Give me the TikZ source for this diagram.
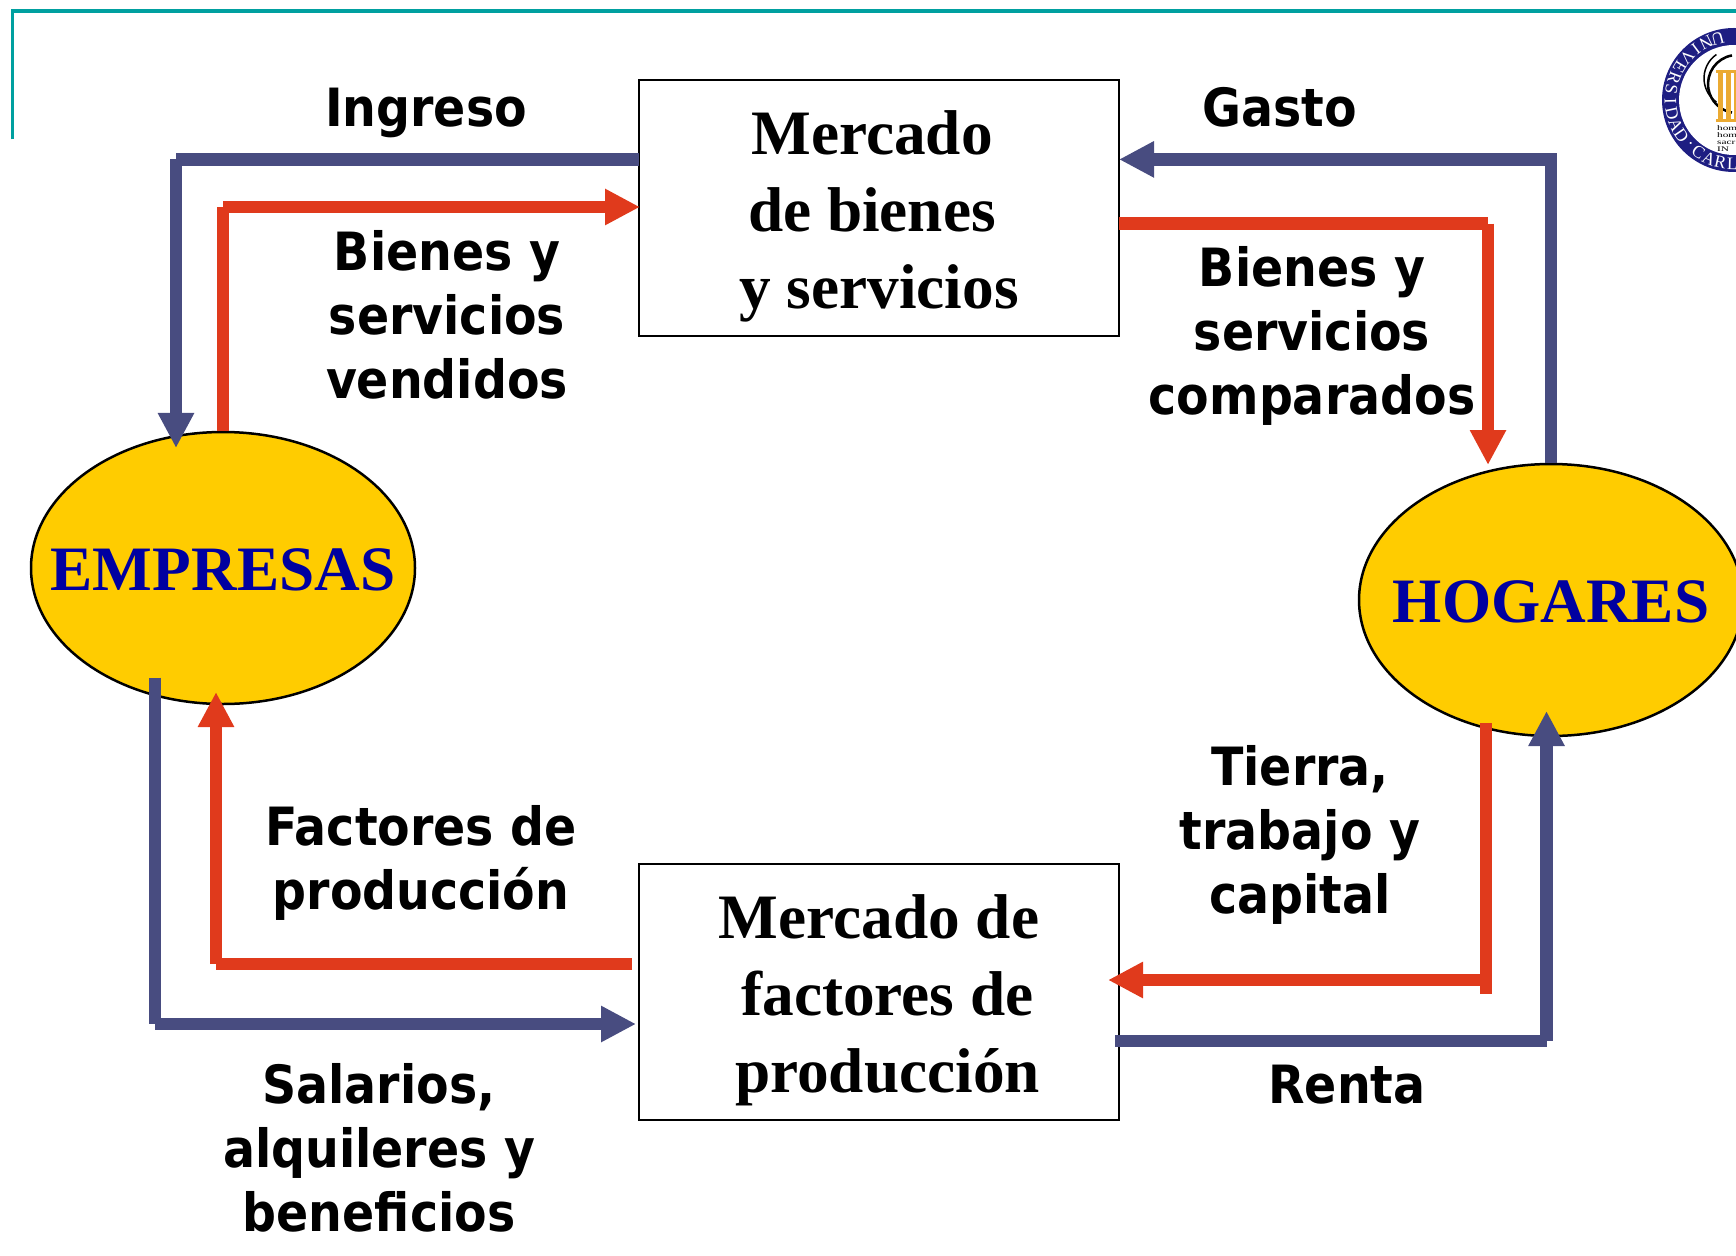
\documentclass[tikz,border=0pt]{standalone}
\usepackage{fontspec}
\setmainfont{Liberation Serif}
\newfontfamily\labelfont[FakeStretch=0.9]{DejaVu Sans}
\usetikzlibrary{shapes,arrows.meta}

\definecolor{tealline}{RGB}{0,160,160}
\definecolor{flowblue}{RGB}{72,76,128}
\definecolor{flowred}{RGB}{224,58,28}
\definecolor{sectoryellow}{RGB}{255,204,0}
\definecolor{sectorblue}{RGB}{0,0,160}
\definecolor{logoblue}{RGB}{30,30,130}
\definecolor{logogold}{RGB}{235,170,50}

\tikzset{
  market/.style={rectangle, draw, line width=0.025cm,
                 minimum width=4.8cm, minimum height=2.56cm},
  sector/.style={ellipse, draw, line width=0.025cm, fill=sectoryellow,
                 minimum width=3.84cm, minimum height=2.72cm},
  markettext/.style={align=center, inner sep=0pt,
                     font=\bfseries\fontsize{18}{21.9}\selectfont},
  sectortext/.style={inner sep=0pt, text=sectorblue,
                     font=\bfseries\fontsize{18}{21.9}\selectfont},
  flowlabel/.style={align=center, inner sep=0pt,
                    font=\labelfont\bfseries\fontsize{15}{18.2}\selectfont},
  money/.style={draw=flowblue, line width=0.125cm},
  goods/.style={draw=flowred, line width=0.125cm}
}

\begin{document}
\begin{tikzpicture}[>={Triangle[length=.35cm,width=.34cm]}]

  \useasboundingbox (0,0) rectangle (17.36,12.55);

  % frame
  \coordinate (frameA) at (0.125,11.155);
  \coordinate (frameB) at (0.125,12.44);
  \coordinate (frameC) at (17.36,12.44);
  \draw[tealline, line width=0.035cm] (frameA) -- (frameB) -- (frameC);

  % logo
  \coordinate (logo) at (17.34,11.55);
  \fill[logoblue] (logo) circle (0.72);
  \fill[white] (logo) circle (0.55);
  \foreach \letter [count=\i, evaluate=\i as \ang using 105+10.9*(\i-1)] in
      {U,N,I,V,E,R,S,I,D,A,D,\textperiodcentered,C,A,R,L}
    \node[text=white, inner sep=0pt, rotate=\ang+90, font=\fontsize{5}{6}\selectfont]
      at ([shift={(\ang:0.635)}]logo) {\letter};
  \coordinate (crest) at (17.37,11.71);
  \draw[line width=0.025cm] ([shift={(100:0.29)}]crest) arc (100:260:0.29);
  \draw[line width=0.015cm] ([shift={(125:0.36)}]crest) arc (125:235:0.29);
  \foreach \barx in {17.18,17.26,17.335}
    \fill[logogold] (\barx,11.35) rectangle +(0.05,0.47);
  \fill[logogold] (17.16,11.82) rectangle (17.36,11.85);
  \fill[logogold] (17.16,11.33) rectangle (17.36,11.36);
  \node[inner sep=0pt, align=left, anchor=north west, xscale=1.6, transform shape,
        font=\fontsize{2}{2}\selectfont] (motto) at (17.16,11.30) {homo\\homi\\sacr\\IN};

  \node[market] (bienes) at (8.79,10.47) {};
  \node[markettext] at ([yshift=-0.08cm]bienes.center) {Mercado\kern0.14cm\\de bienes\kern0.14cm\\y servicios};
  \node[market] (factores) at (8.79,2.63) {};
  \node[markettext] at ([yshift=-0.08cm]factores.center) {Mercado de\\\kern0.17cm factores de\\\kern0.17cm producción};

  \node[sector] (empresas) at (2.23,6.87) {};
  \node[sectortext] at ([yshift=-0.02cm]empresas.center) {EMPRESAS};
  \node[sector] (hogares) at (15.51,6.55) {};
  \node[sectortext] at ([yshift=-0.02cm]hogares.center) {HOGARES};

  \node[flowlabel] (ingreso) at (4.26,11.425) {Ingreso};
  \node[flowlabel] (vendidos) at (4.47,9.40) {Bienes y\\servicios\\vendidos};
  \node[flowlabel] (gasto) at (12.80,11.48) {Gasto};
  \node[flowlabel] (comparados) at (13.12,9.195) {Bienes y\\servicios\\comparados};
  \node[flowlabel] (tierra) at (13.00,4.205) {Tierra,\\trabajo y\\capital};
  \node[flowlabel] (renta) at (13.47,1.70) {Renta};
  \node[flowlabel] (produccion) at (4.21,3.925) {Factores de\\producción};
  \node[flowlabel] (salarios) at (3.79,1.07) {Salarios,\\alquileres y\\beneficios};

  \coordinate (ingresoA) at (6.39,10.956);
  \coordinate (ingresoB) at (1.76,10.956);
  \coordinate (ingresoC) at (1.76,8.07);
  \coordinate (vendidosB) at (2.23,10.48);
  \coordinate (vendidosC) at (6.40,10.48);
  \coordinate (gastoC) at (11.19,10.956);
  \coordinate (comparadosA) at (11.19,10.314);
  \coordinate (comparadosB) at (14.88,10.314);
  \coordinate (comparadosC) at (14.88,7.90);
  \coordinate (rentaA) at (11.15,2.14);
  \coordinate (rentaB) at (15.465,2.14);
  \coordinate (rentaC) at (15.465,5.44);
  \coordinate (tierraA) at (14.86,5.32);
  \coordinate (tierraB) at (14.86,2.61);
  \coordinate (tierraC) at (14.86,2.75);
  \coordinate (tierraD) at (11.08,2.75);
  \coordinate (salariosA) at (1.55,5.775);
  \coordinate (salariosB) at (1.55,2.31);
  \coordinate (salariosC) at (6.36,2.31);
  \coordinate (produccionA) at (6.32,2.91);
  \coordinate (produccionB) at (2.16,2.91);
  \coordinate (produccionC) at (2.16,5.63);

  \draw[money,->] (hogares.north) |- (gastoC);

  \path
  % top flows
  (ingresoA) edge[money] (ingresoB)
  (ingresoB) edge[money,->] (ingresoC)
  (empresas.north) edge[goods] (vendidosB)
  (vendidosB) edge[goods,->] (vendidosC)
  (comparadosA) edge[goods] (comparadosB)
  (comparadosB) edge[goods,->] (comparadosC)
  % bottom flows
  (rentaA) edge[money] (rentaB)
  (rentaB) edge[money,->] (rentaC)
  (tierraA) edge[goods] (tierraB)
  (tierraC) edge[goods,->] (tierraD)
  (salariosA) edge[money] (salariosB)
  (salariosB) edge[money,->] (salariosC)
  (produccionA) edge[goods] (produccionB)
  (produccionB) edge[goods,->] (produccionC);

\end{tikzpicture}
\end{document}
